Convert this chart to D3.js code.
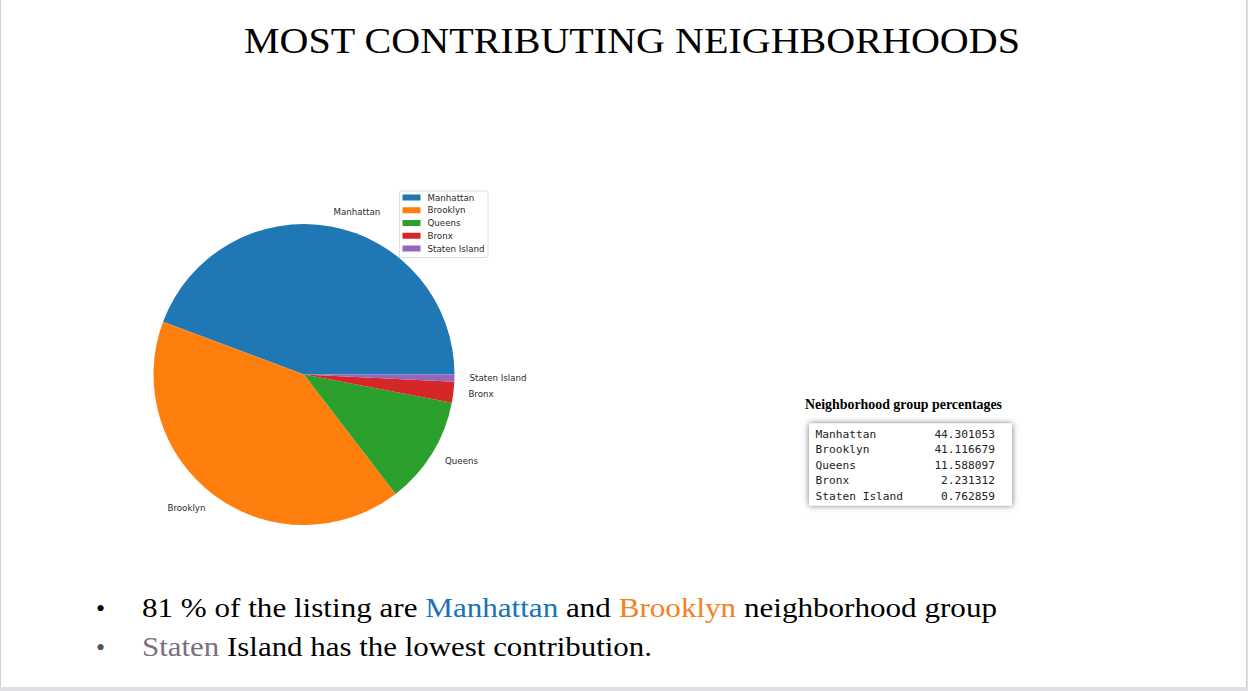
<!DOCTYPE html>
<html>
<head>
<meta charset="utf-8">
<script src="https://cdn.jsdelivr.net/npm/d3@7"></script>
<style>
  html, body { margin: 0; padding: 0; background: #e2dfe4; }
  svg { display: block; }
</style>
</head>
<body>
<svg id="chart" width="1248" height="691"></svg>
<script>
const titleText = "MOST CONTRIBUTING NEIGHBORHOODS";
const categories = ["Manhattan", "Brooklyn", "Queens", "Bronx", "Staten Island"];
const percentages = [44.301053, 41.116679, 11.588097, 2.231312, 0.762859];
const tableTitle = "Neighborhood group percentages";
const tableFooter = "Name: neighbourhood_group, dtype: float64";
const bullet1 = [
  {t: "81 % of the listing are ", c: "#000"},
  {t: "Manhattan", c: "#1a72b8"},
  {t: " and ", c: "#000"},
  {t: "Brooklyn", c: "#f7801f"},
  {t: " neighborhood group", c: "#000"}
];
const bullet2 = [
  {t: "Staten", c: "#7b6e82"},
  {t: " Island has the lowest contribution.", c: "#000"}
];

const svg = d3.select("#chart");

// slide background
svg.append("rect").attr("x", 0).attr("y", 0).attr("width", 1247).attr("height", 687)
  .attr("fill", "#fff");
svg.append("line").attr("x1", 0.5).attr("x2", 0.5).attr("y1", 0).attr("y2", 687).attr("stroke", "#d4d0d6");
svg.append("line").attr("x1", 1246.5).attr("x2", 1246.5).attr("y1", 0).attr("y2", 687).attr("stroke", "#d4d0d6");

// title
svg.append("text").attr("x", 244).attr("y", 53)
  .attr("font-family", "Liberation Serif, serif").attr("font-size", 35)
  .attr("textLength", 776).attr("lengthAdjust", "spacingAndGlyphs")
  .attr("fill", "#000").text(titleText);

// pie
const cx = 304, cy = 374.5, R = 150.5;
const color = d3.scaleOrdinal().domain(categories).range(d3.schemeCategory10);
const pie = d3.pie().value(d => d.v).sort(null)
  .startAngle(Math.PI / 2).endAngle(Math.PI / 2 - 2 * Math.PI);
const data = categories.map((k, i) => ({k, v: percentages[i]}));
const arcs = pie(data);
const arc = d3.arc().innerRadius(0).outerRadius(R);
const g = svg.append("g").attr("transform", `translate(${cx},${cy})`);
g.selectAll("path").data(arcs).join("path")
  .attr("d", arc).attr("fill", d => color(d.data.k));

// labels (matplotlib style, at 1.1 R)
g.selectAll("text.lbl").data(arcs).join("text").attr("class", "lbl")
  .each(function(d) {
    const a = (d.startAngle + d.endAngle) / 2;
    const x = 1.1 * R * Math.sin(a), y = -1.1 * R * Math.cos(a);
    d3.select(this).attr("x", x).attr("y", y)
      .attr("text-anchor", x >= 0 ? "start" : "end")
      .attr("dominant-baseline", "central");
  })
  .attr("font-family", "DejaVu Sans, sans-serif").attr("font-size", 8.7)
  .attr("fill", "#2a2a2a").text(d => d.data.k);

// legend
const lg = svg.append("g").attr("transform", "translate(399.5,191)");
lg.append("rect").attr("width", 88.5).attr("height", 66.5).attr("rx", 2)
  .attr("fill", "#fff").attr("stroke", "#d6d6d6").attr("stroke-width", 0.8);
const rowY = d3.scalePoint().domain(categories).range([6.5, 57.5]);
lg.selectAll("rect.patch").data(categories).join("rect").attr("class", "patch")
  .attr("x", 3).attr("y", d => rowY(d) - 3).attr("width", 18).attr("height", 6)
  .attr("fill", d => color(d));
lg.selectAll("text.lt").data(categories).join("text").attr("class", "lt")
  .attr("x", 28).attr("y", d => rowY(d)).attr("dominant-baseline", "central")
  .attr("font-family", "DejaVu Sans, sans-serif").attr("font-size", 8.7)
  .attr("fill", "#2a2a2a").text(d => d);

// table
const defs = svg.append("defs");
const f = defs.append("filter").attr("id", "sh").attr("x", "-10%").attr("y", "-20%")
  .attr("width", "120%").attr("height", "140%");
f.append("feDropShadow").attr("dx", 0).attr("dy", 0).attr("stdDeviation", 3)
  .attr("flood-color", "#000").attr("flood-opacity", 0.55);
defs.append("clipPath").attr("id", "tclip").append("rect")
  .attr("x", 809).attr("y", 423.5).attr("width", 203).attr("height", 82);

svg.append("text").attr("x", 805).attr("y", 409)
  .attr("font-family", "Liberation Serif, serif").attr("font-size", 14).attr("font-weight", "bold")
  .attr("textLength", 197).attr("lengthAdjust", "spacingAndGlyphs")
  .attr("fill", "#000").text(tableTitle);

svg.append("rect").attr("x", 809).attr("y", 423.5).attr("width", 203).attr("height", 82)
  .attr("fill", "#fff").attr("filter", "url(#sh)");
const tg = svg.append("g").attr("clip-path", "url(#tclip)");
const ty = d3.scaleLinear().domain([0, 1]).range([437.5, 453]);
const mono = "DejaVu Sans Mono, Liberation Mono, monospace";
tg.selectAll("text.tn").data(categories).join("text").attr("class", "tn")
  .attr("x", 815.5).attr("y", (d, i) => ty(i))
  .attr("font-family", mono).attr("font-size", 11.2)
  .attr("fill", "#222").attr("xml:space", "preserve").text(d => d);
tg.selectAll("text.tv").data(percentages).join("text").attr("class", "tv")
  .attr("x", 995).attr("y", (d, i) => ty(i)).attr("text-anchor", "end")
  .attr("font-family", mono).attr("font-size", 11.2)
  .attr("fill", "#222").text(d => d.toFixed(6));
tg.append("text").attr("x", 815.5).attr("y", ty(5) - 1.5)
  .attr("font-family", mono).attr("font-size", 11.2)
  .attr("fill", "#222").text(tableFooter);

// bullets
function bullet(y, parts, len, dotColor) {
  svg.append("text").attr("x", 96).attr("y", y)
    .attr("font-family", "Liberation Serif, serif").attr("font-size", 26)
    .attr("fill", dotColor).text("•");
  const t = svg.append("text").attr("x", 142).attr("y", y)
    .attr("font-family", "Liberation Serif, serif").attr("font-size", 28)
    .attr("textLength", len).attr("lengthAdjust", "spacingAndGlyphs");
  t.selectAll("tspan").data(parts).join("tspan")
    .attr("fill", d => d.c).attr("xml:space", "preserve").text(d => d.t);
}
bullet(617, bullet1, 855, "#000");
bullet(656, bullet2, 510, "#555");
</script>
</body>
</html>
